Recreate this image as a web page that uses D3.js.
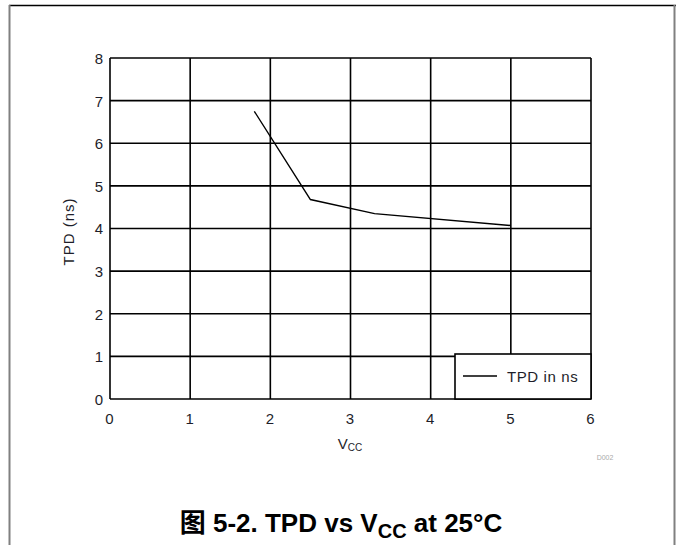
<!DOCTYPE html>
<html><head><meta charset="utf-8">
<script src="https://cdn.jsdelivr.net/npm/d3@7"></script>
<style>body{margin:0;background:#fff}svg{display:block}</style>
</head><body>
<script>
const vcc = [1.8, 2.5, 3.3, 5.0];
const tpd = [6.75, 4.68, 4.35, 4.07];
const xTicks = [0, 1, 2, 3, 4, 5, 6];
const yTicks = [0, 1, 2, 3, 4, 5, 6, 7, 8];
const seriesName = "TPD in ns";

const W = 676, H = 545;
const svg = d3.select("body").append("svg").attr("width", W).attr("height", H);
const font = "Arial, 'Liberation Sans', sans-serif";
const txt = "#1e1e2a";

// outer frame
svg.append("line").attr("x1", 9).attr("x2", 676).attr("y1", 5.5).attr("y2", 5.5).attr("stroke", "#000").attr("stroke-width", 1.5);
svg.append("line").attr("x1", 9.5).attr("x2", 9.5).attr("y1", 5).attr("y2", H).attr("stroke", "#808080").attr("stroke-width", 2);
svg.append("line").attr("x1", 674.5).attr("x2", 674.5).attr("y1", 5).attr("y2", H).attr("stroke", "#808080").attr("stroke-width", 2);

const x = d3.scaleLinear().domain([0, 6]).range([110, 591]);
const y = d3.scaleLinear().domain([0, 8]).range([399, 58]);

const g = svg.append("g");
// grid
g.selectAll(".vg").data(xTicks).join("line")
  .attr("x1", d => x(d)).attr("x2", d => x(d)).attr("y1", y(8)).attr("y2", y(0))
  .attr("stroke", "#000").attr("stroke-width", 1.6);
g.selectAll(".hg").data(yTicks).join("line")
  .attr("x1", x(0)).attr("x2", x(6)).attr("y1", d => y(d)).attr("y2", d => y(d))
  .attr("stroke", "#000").attr("stroke-width", 1.6);

// axes labels via d3 axis
const xAxis = svg.append("g").attr("transform", `translate(0,${y(0)})`)
  .call(d3.axisBottom(x).tickValues(xTicks).tickSize(0).tickPadding(14).tickFormat(d3.format("d")));
const yAxis = svg.append("g").attr("transform", `translate(${x(0)},0)`)
  .call(d3.axisLeft(y).tickValues(yTicks).tickSize(0).tickPadding(7).tickFormat(d3.format("d")));
[xAxis, yAxis].forEach(a => {
  a.select(".domain").remove();
  a.selectAll("text").attr("font-family", font).attr("font-size", 15).attr("fill", txt);
});
xAxis.selectAll("text").attr("dx", -1);
yAxis.selectAll("text").attr("dy", "0.36em");

// series line
const line = d3.line().x((d, i) => x(vcc[i])).y(d => y(d));
svg.append("path").datum(tpd).attr("d", line).attr("fill", "none").attr("stroke", "#000").attr("stroke-width", 1.4);

// legend
const lg = svg.append("g");
lg.append("rect").attr("x", 455).attr("y", 354).attr("width", x(6) - 455).attr("height", y(0) - 354)
  .attr("fill", "#fff").attr("stroke", "#000").attr("stroke-width", 1.6);
lg.append("line").attr("x1", 463).attr("x2", 497).attr("y1", 376).attr("y2", 376).attr("stroke", "#000").attr("stroke-width", 1.4);
lg.append("text").attr("x", 507).attr("y", 382).text(seriesName)
  .attr("font-family", font).attr("font-size", 15).attr("letter-spacing", 0.6).attr("fill", txt);

// axis titles
svg.append("text").attr("transform", `translate(74,${(y(0)+y(8))/2 + 3}) rotate(-90)`)
  .attr("text-anchor", "middle").attr("font-family", font).attr("font-size", 15).attr("letter-spacing", 1).attr("fill", txt)
  .text("TPD (ns)");
const xt = svg.append("text").attr("x", 350).attr("y", 449).attr("text-anchor", "middle")
  .attr("font-family", font).attr("font-size", 15).attr("fill", txt);
xt.append("tspan").text("V");
xt.append("tspan").text("CC").attr("font-size", 10).attr("dy", 2);

svg.append("text").attr("x", 605).attr("y", 460).attr("text-anchor", "middle")
  .attr("font-family", font).attr("font-size", 7).attr("fill", "#aaa").text("D002");

// caption
const cap = svg.append("text").attr("x", 341).attr("y", 532).attr("text-anchor", "middle")
  .attr("font-family", "Arial, 'Liberation Sans', 'Noto Sans CJK SC', sans-serif").attr("font-weight", "bold").attr("font-size", 26).attr("fill", "#000");
cap.append("tspan").text("图 5-2. TPD vs V");
cap.append("tspan").text("CC").attr("font-size", 20).attr("dy", 6);
cap.append("tspan").text(" at 25°C").attr("dy", -6);
</script>
</body></html>
